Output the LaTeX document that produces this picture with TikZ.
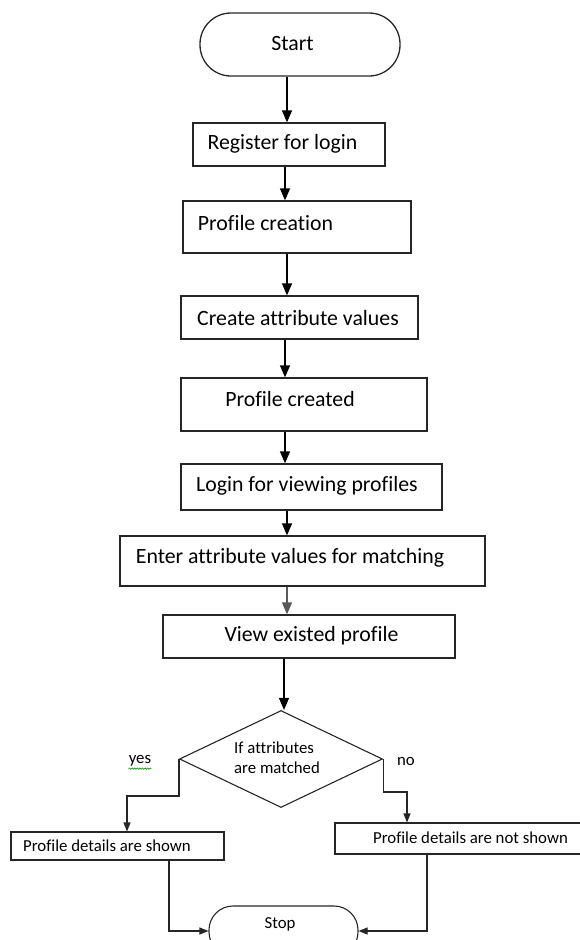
\documentclass[tikz,border=0pt]{standalone}
\usepackage{fontspec}
\setmainfont{Carlito}[Ligatures=NoCommon]
\usetikzlibrary{arrows.meta,shapes.geometric,decorations.pathmorphing}
\definecolor{linec}{HTML}{262626}
\tikzset{
  box/.style={draw=linec, line width=1.3pt, inner sep=0pt, rectangle},
  term/.style={draw=linec, line width=1.3pt, inner sep=0pt, rectangle, rounded corners=#1},
  dia/.style={draw=linec, line width=1.1pt, inner sep=0pt, diamond, minimum width=203pt, minimum height=97pt},
  big/.style={font=\fontsize{21.8}{24}\selectfont, inner sep=0pt, text=black},
  small/.style={font=\fontsize{16.8}{20}\selectfont, inner sep=0pt, text=black},
  arr/.style={draw=black, line width=1.3pt, -{Triangle[length=12pt,width=10pt]}},
  arrs/.style={draw=linec, line width=1.1pt, -{Triangle[length=9pt,width=7pt]}},
  link/.style={draw=linec, line width=1.1pt}
}
\begin{document}
\begin{tikzpicture}[x=1pt,y=-1pt]
\useasboundingbox (0,0) rectangle (579,940);
% shapes
\node[term=31pt, minimum width=200pt, minimum height=63pt] (start) at (300,44.5) {};
\node[box, minimum width=192pt, minimum height=43pt] (reg) at (289,144.5) {};
\node[box, minimum width=228pt, minimum height=52pt] (pc) at (297,227) {};
\node[box, minimum width=237pt, minimum height=43pt] (cav) at (299.5,317.5) {};
\node[box, minimum width=246pt, minimum height=53pt] (pcd) at (304,404.5) {};
\node[box, minimum width=261pt, minimum height=46pt] (login) at (311.5,487) {};
\node[box, minimum width=365pt, minimum height=50pt] (enter) at (302.5,561) {};
\node[box, minimum width=292pt, minimum height=43pt] (view) at (309,636.5) {};
\node[dia] (cond) at (281,759) {};
\node[box, line width=1.1pt, minimum width=213pt, minimum height=28pt] (shown) at (117.5,846) {};
\node[box, line width=1.1pt, minimum width=250pt, minimum height=31pt] (ns) at (460,838.5) {};
\node[term=24pt, line width=1.1pt, minimum width=149pt, minimum height=50pt] (stop) at (283.5,931) {};
% texts
\node[big] (tstart) at (292.5,44) {Start};
\node[big] (treg) at (282.5,144) {Register for login};
\node[big] (tpc) at (265.5,223) {Profile creation};
\node[big] (tcav) at (298,318) {Create attribute values};
\node[big] (tpcd) at (290,399) {Profile created};
\node[big] (tlogin) at (307,486) {Login for viewing profiles};
\node[big] (tenter) at (290,558) {Enter attribute values for matching};
\node[big] (tview) at (311.5,636) {View existed profile};
\node[small, align=left, anchor=west] (tcond) at (234,757.5) {If attributes\\are matched};
\node[small] (tyes) at (140,761) {yes};
\node[small] (tno) at (406,761) {no};
\node[small] (tshown) at (107,846) {Profile details are shown};
\node[small] (tns) at (470.5,838) {Profile details are not shown};
\node[small] (tstop) at (280,924) {Stop};
\draw[green!60!black, line width=0.6pt, decorate, decoration={snake, amplitude=0.7pt, segment length=2.6pt}]
  ([yshift=-2pt]tyes.south west) -- ([yshift=-2pt]tyes.south east);
% connectors
\draw[arr] ([xshift=-13pt]start.south) -- ([xshift=-2pt]reg.north);
\draw[arr] ([xshift=-4pt]reg.south) -- ([xshift=-12pt]pc.north);
\draw[arr] ([xshift=-10pt]pc.south) -- ([xshift=-12.5pt]cav.north);
\draw[arr] ([xshift=-14.5pt]cav.south) -- ([xshift=-19pt]pcd.north);
\draw[arr] ([xshift=-19pt]pcd.south) -- ([xshift=-26.5pt]login.north);
\draw[arr] ([xshift=-24.5pt]login.south) -- ([xshift=-15.5pt]enter.north);
\draw[arr, draw=black!65] ([xshift=-15.5pt]enter.south) -- ([xshift=-22pt]view.north);
\draw[arr] ([xshift=-25pt]view.south) -- ([xshift=3pt]cond.north);
\draw[arrs] (cond.west) -- ++(0,37) -| ([xshift=9.5pt]shown.north);
\draw[arrs] (cond.east) -- ++(0,33) -| ([xshift=-53pt]ns.north);
\draw[arrs] ([xshift=51.5pt]shown.south) |- (stop.west);
\draw[arrs] ([xshift=-33pt]ns.south) |- (stop.east);
\end{tikzpicture}
\end{document}
